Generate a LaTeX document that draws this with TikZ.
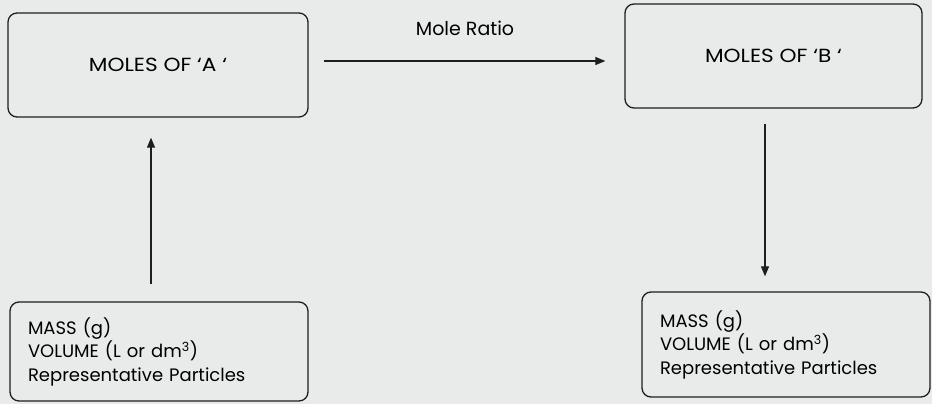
\documentclass[tikz,border=0pt]{standalone}
\usepackage{fontspec}
\setmainfont{Poppins}
\newfontfamily\widefont[FakeStretch=1.14]{Poppins}
\usetikzlibrary{arrows.meta}
\definecolor{paper}{HTML}{E9EBEA}
\definecolor{ink}{HTML}{1E1E1E}
\tikzset{
  box/.style={draw=ink, line width=1.3pt, rounded corners=9pt, inner sep=0pt},
  listbox/.style={box, align=left, font=\fontsize{18}{23.5}\selectfont},
  titlebox/.style={box, font=\widefont\fontsize{19}{22}\selectfont},
  arr/.style={draw=ink, line width=1.2pt, -{Triangle[length=10pt,width=8pt]}},
}
\begin{document}
\begin{tikzpicture}[x=1pt,y=-1pt]
  \fill[paper] (0,0) rectangle (932,404);
  \useasboundingbox (0,0) rectangle (932,404);

  % mole boxes
  \node[titlebox, minimum width=300pt, minimum height=104pt] (A) at (158,65) {MOLES OF ‘A ‘};
  \node[titlebox, minimum width=297pt, minimum height=104pt] (B) at (773.5,56) {MOLES OF ‘B ‘};

  % quantity boxes
  \node[listbox, minimum width=298pt, minimum height=99pt, text width=262pt] (QA) at (159,351.5)
    {MASS (g)\\VOLUME (L or dm\textsuperscript{3})\\Representative Particles};
  \node[listbox, minimum width=288pt, minimum height=105pt, text width=252pt] (QB) at (786,344.5)
    {MASS (g)\\VOLUME (L or dm\textsuperscript{3})\\Representative Particles};

  % conversions
  \draw[arr, shorten <=15pt, shorten >=19pt] (A.east |- 0,61) -- (B.west |- 0,61);
  \node[anchor=base, inner sep=0pt, font=\fontsize{19}{22}\selectfont] (lbl) at (465,36) {Mole Ratio};
  \draw[arr, shorten <=17pt, shorten >=20pt] (QA.north -| 151,0) -- (A.south -| 151,0);
  \draw[arr, shorten <=15pt, shorten >=15pt] (B.south -| 765,0) -- (QB.north -| 765,0);
\end{tikzpicture}
\end{document}
